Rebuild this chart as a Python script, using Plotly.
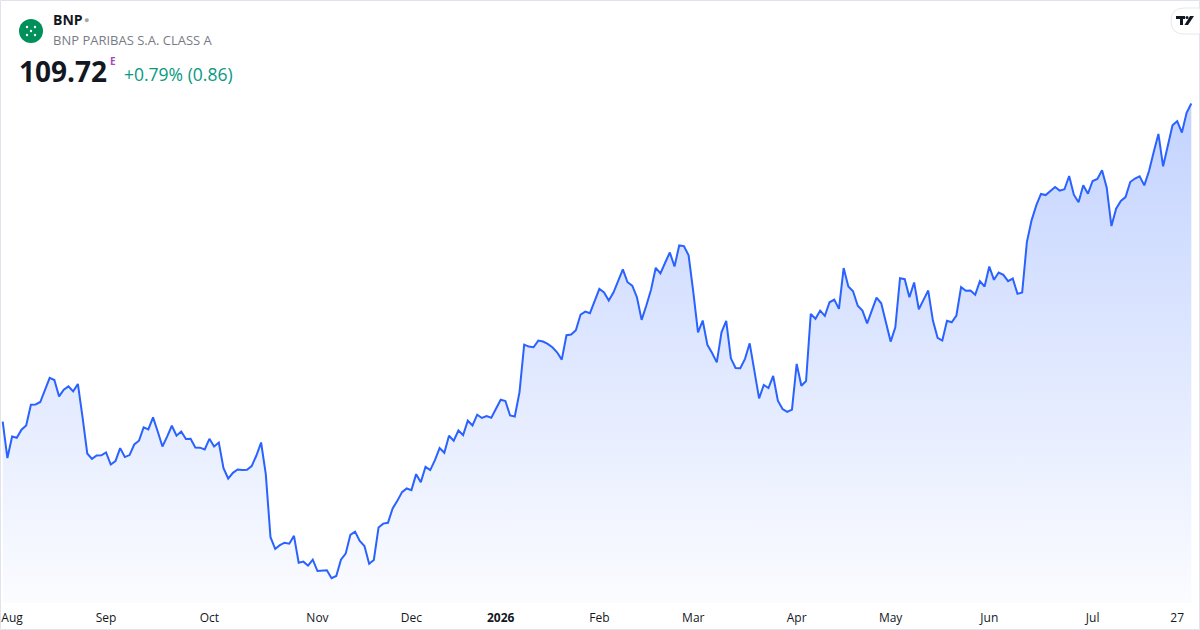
import plotly.graph_objects as go

# daily closes, BNP Paribas S.A. Class A
closes = [
    80.65, 77.33, 79.30, 79.18, 79.92, 80.31, 82.20, 82.23, 82.45, 83.51,
    84.65, 84.46, 82.96, 83.58, 83.88, 83.42, 84.10, 81.04, 77.75, 77.26,
    77.56, 77.58, 77.84, 76.74, 77.05, 78.24, 77.42, 77.60, 78.57, 78.91,
    80.13, 79.94, 81.04, 79.76, 78.39, 79.28, 80.28, 79.37, 79.76, 79.07,
    79.09, 78.30, 78.28, 78.11, 79.09, 78.39, 78.75, 76.41, 75.46, 75.98,
    76.28, 76.23, 76.26, 76.60, 77.56, 78.75, 75.86, 70.10, 69.03, 69.37,
    69.60, 69.51, 70.22, 67.77, 67.87, 67.50, 68.05, 67.01, 67.04, 67.08,
    66.35, 66.56, 68.05, 68.60, 70.31, 70.61, 69.76, 69.30, 67.68, 68.02,
    70.98, 71.34, 71.41, 72.72, 73.42, 74.22, 74.55, 74.40, 75.86, 75.13,
    76.53, 76.23, 77.14, 78.24, 77.81, 79.37, 78.91, 79.85, 79.43, 80.74,
    80.31, 81.29, 80.99, 81.17, 81.01, 81.87, 82.66, 82.54, 81.22, 81.13,
    83.33, 87.69, 87.51, 87.45, 88.06, 87.97, 87.76, 87.45, 86.99, 86.32,
    88.55, 88.61, 89.00, 90.44, 90.71, 90.56, 91.66, 92.79, 92.45, 91.72,
    92.45, 93.55, 94.56, 93.39, 93.07, 92.02, 89.95, 91.26, 92.70, 94.71,
    94.19, 95.17, 96.11, 94.83, 96.75, 96.69, 95.84, 92.48, 88.82, 89.89,
    87.67, 86.93, 86.07, 88.82, 89.86, 86.44, 85.56, 85.53, 86.39, 87.81,
    85.31, 82.78, 84.01, 83.73, 84.83, 82.57, 81.81, 81.54, 81.75, 85.93,
    83.94, 84.37, 90.50, 90.05, 90.80, 90.32, 91.56, 91.81, 90.96, 94.68,
    93.00, 92.57, 91.24, 90.80, 89.64, 90.80, 91.99, 91.47, 89.83, 87.97,
    89.28, 93.76, 93.67, 92.02, 93.37, 90.92, 91.78, 92.63, 89.89, 88.31,
    88.06, 89.86, 89.73, 90.35, 92.94, 92.61, 92.63, 92.24, 93.49, 93.00,
    94.83, 93.61, 94.28, 94.07, 93.49, 93.73, 92.33, 92.45, 97.05, 99.04,
    100.41, 101.45, 101.35, 101.76, 102.09, 101.76, 101.88, 103.09, 101.39, 100.69,
    102.24, 101.48, 102.64, 102.82, 103.61, 102.03, 98.52, 100.11, 100.81, 101.17,
    102.54, 102.86, 103.07, 102.24, 103.55, 105.29, 106.94, 103.98, 105.93, 107.73,
    108.10, 107.06, 108.86, 109.72,
]
days = list(range(len(closes)))

# trading-day index of each axis label
tick_idx = [2, 22, 44, 67, 87, 106, 127, 147, 169, 189, 210, 232, 250]
tick_txt = ["Aug", "Sep", "Oct", "Nov", "Dec", "<b>2026</b>", "Feb", "Mar",
            "Apr", "May", "Jun", "Jul", "27"]

last = closes[-1]
prev = closes[-2]
chg = last - prev
pct = chg / prev * 100

W, H = 1200, 630
PLOT_BOTTOM = 603          # px from top where the plot area ends
y_lo, y_hi = 64.09, 119.17  # price range of the plot area

fig = go.Figure()
fig.add_trace(go.Scatter(
    x=days, y=closes, mode="lines",
    line=dict(color="#2962FF", width=2),
    fill="tozeroy",
    fillgradient=dict(type="vertical",
                      colorscale=[[0, "rgba(41,98,255,0.02)"],
                                  [1, "rgba(41,98,255,0.28)"]],
                      start=y_lo, stop=max(closes)),
    hoverinfo="skip",
))


def px(x):
    return x / W


def py(y):
    return (PLOT_BOTTOM - y) / PLOT_BOTTOM


FONT = "Open Sans"
ann = [
    dict(x=px(51), y=py(20), text="<b>BNP</b>", font=dict(size=14, color="#131722")),
    dict(x=px(82), y=py(20), text="●", font=dict(size=9, color="#a3a6af")),
    dict(x=px(51), y=py(40), text="BNP PARIBAS S.A. CLASS A",
         font=dict(size=13, color="#787b86")),
    dict(x=px(17), y=py(71), text="<b>%.2f</b>" % last, font=dict(size=28, color="#131722")),
    dict(x=px(108), y=py(61), text="<b>E</b>", font=dict(size=10, color="#ab47bc")),
    dict(x=px(122), y=py(74), text="+%.2f%% (%.2f)" % (pct, chg),
         font=dict(size=17.5, color="#089981")),
]
for a in ann:
    a.update(xref="paper", yref="paper", xanchor="left", yanchor="middle",
             showarrow=False)
    a["font"]["family"] = FONT

shapes = [
    # outer frame
    dict(type="rect", xref="paper", yref="paper",
         x0=px(0.5), x1=px(1199.5), y0=py(629.5), y1=py(0.5),
         line=dict(color="#e0e3eb", width=1), layer="above"),
    # company logo
    dict(type="circle", xref="paper", yref="paper",
         x0=px(19), x1=px(43), y0=py(43), y1=py(19),
         fillcolor="#00915A", line=dict(width=0)),
    # TradingView badge
    dict(type="path", xref="paper", yref="paper",
         path="M %f,%f L %f,%f Q %f,%f %f,%f L %f,%f Q %f,%f %f,%f L %f,%f Z" % (
             px(1200), py(8), px(1184), py(8), px(1171), py(8), px(1171), py(21),
             px(1171), py(21), px(1171), py(34), px(1184), py(34), px(1200), py(34)),
         fillcolor="white", line=dict(color="#e6e8ee", width=1)),
    dict(type="path", xref="paper", yref="paper",
         path="M %f,%f L %f,%f L %f,%f L %f,%f L %f,%f L %f,%f L %f,%f L %f,%f Z" % (
             px(1176), py(16), px(1185), py(16), px(1185), py(19), px(1183), py(19),
             px(1183), py(25), px(1180), py(25), px(1180), py(19), px(1176), py(19)),
         fillcolor="#131722", line=dict(width=0)),
    dict(type="circle", xref="paper", yref="paper",
         x0=px(1185.5), x1=px(1188.5), y0=py(19), y1=py(16),
         fillcolor="#131722", line=dict(width=0)),
    dict(type="path", xref="paper", yref="paper",
         path="M %f,%f L %f,%f L %f,%f L %f,%f Z" % (
             px(1190), py(16), px(1194), py(16), px(1188), py(25), px(1184.5), py(25)),
         fillcolor="#131722", line=dict(width=0)),
]
# small white marks inside the logo
for cx, cy in [(27, 27), (35, 27), (27, 35), (35, 35), (31, 31)]:
    shapes.append(dict(type="circle", xref="paper", yref="paper",
                       x0=px(cx - 1.2), x1=px(cx + 1.2), y0=py(cy + 1.2), y1=py(cy - 1.2),
                       fillcolor="white", line=dict(width=0)))

x_step = (1191.3 - 2.7) / (len(closes) - 1)
fig.update_layout(
    width=W, height=H,
    margin=dict(l=0, r=0, t=0, b=H - PLOT_BOTTOM),
    paper_bgcolor="white", plot_bgcolor="white",
    showlegend=False,
    font=dict(family=FONT, color="#131722", size=12),
    xaxis=dict(range=[-2.7 / x_step, len(closes) - 1 + (W - 1191.3) / x_step],
               tickvals=tick_idx, ticktext=tick_txt, showgrid=False,
               zeroline=False, showline=False, ticks="",
               tickfont=dict(size=12, color="#131722", family=FONT),
               ticklabelstandoff=6, fixedrange=True),
    yaxis=dict(range=[y_lo, y_hi], visible=False, fixedrange=True),
    annotations=ann,
    shapes=shapes,
)

# drop the page's default body margin so the figure sits at the window corner
fig.write_html("out.html", config={"displayModeBar": False},
               post_script="document.body.style.margin='0';")
